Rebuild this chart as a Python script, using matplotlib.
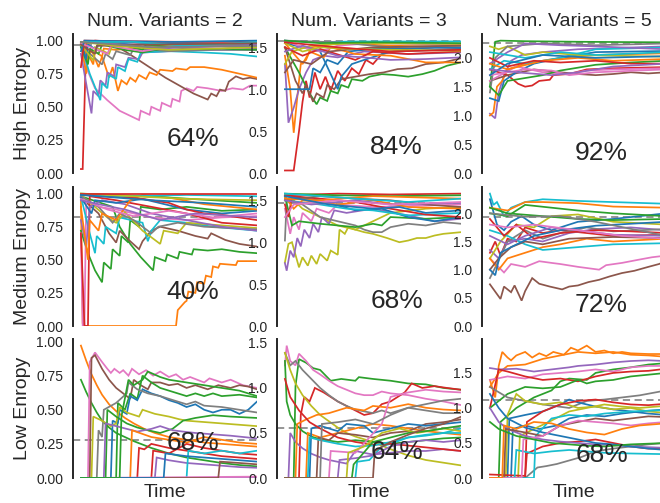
import matplotlib
matplotlib.use("Agg")
import matplotlib.pyplot as plt
from matplotlib.ticker import FormatStrFormatter

plt.rcParams['font.family'] = ['Liberation Sans', 'DejaVu Sans']

col_titles = ["Num. Variants = 2", "Num. Variants = 3", "Num. Variants = 5"]
row_labels = ["High Entropy", "Medium Enropy", "Low Enropy"]
percents = [["64%", "84%", "92%"], ["40%", "68%", "72%"], ["68%", "64%", "68%"]]
ref_levels = [[0.97, 1.57, 2.25], [0.82, 1.47, 1.94], [0.28, 0.56, 1.12]]
yticks = [[0, 0.25, 0.5, 0.75, 1.0], [0, 0.5, 1.0, 1.5], [0, 0.5, 1.0, 1.5, 2.0]]

# ---- High entropy, 2 variants ----
HL_colors = ['C3','C6','C5','C1','C1','C4','C9','C7','C2','C0','C8','C3','C2','C6','C4','C0','C9','C5','C8','C7']
HL_lines = [
 [0,0.03, 1,0.03, 3,0.98, 8,1.0, 20,0.99, 40,0.98, 70,0.975, 100,0.975],
 [0,0.97, 3,0.8, 8,0.64, 15,0.55, 22,0.47, 33,0.40, 34,0.47, 39,0.44, 40,0.50, 45,0.47, 46,0.53, 51,0.50, 52,0.56, 56,0.54, 57,0.62, 60,0.64, 64,0.62, 66,0.65, 72,0.64, 80,0.62, 86,0.64, 92,0.63, 96,0.66, 100,0.66],
 [0,0.99, 10,0.98, 18,0.97, 25,0.92, 32,0.86, 40,0.79, 48,0.72, 56,0.66, 64,0.6, 72,0.555, 74,0.6, 77,0.58, 79,0.63, 82,0.62, 84,0.69, 88,0.73, 92,0.71, 96,0.72, 100,0.71],
 [0,0.98, 4,0.85, 6,0.93, 10,0.8, 12,0.88, 16,0.72, 18,0.8, 21,0.62, 23,0.7, 26,0.67, 28,0.72, 31,0.69, 33,0.74, 37,0.71, 39,0.76, 43,0.74, 45,0.78, 52,0.77, 54,0.79, 60,0.78, 62,0.8, 70,0.8, 80,0.78, 90,0.75, 100,0.72],
 [0,0.97, 3,0.75, 4,0.9, 7,0.82, 8,0.92, 12,0.88, 13,0.94, 20,0.93, 40,0.96, 100,0.97],
 [0,0.9, 6,0.45, 7,0.62, 10,0.58, 11,0.7, 14,0.66, 15,0.76, 19,0.73, 20,0.82, 25,0.8, 27,0.87, 33,0.86, 35,0.91, 50,0.92, 70,0.93, 100,0.93],
 [0,0.97, 5,0.75, 11,0.55, 12,0.68, 15,0.64, 16,0.74, 20,0.71, 21,0.8, 25,0.77, 27,0.86, 32,0.84, 34,0.91, 50,0.92, 70,0.91, 85,0.9, 100,0.88],
 [0,0.96, 12,0.82, 14,0.9, 18,0.86, 20,0.92, 28,0.89, 30,0.94, 50,0.92, 75,0.93, 100,0.94],
 [0,0.95, 4,0.82, 5,0.94, 10,0.9, 12,0.97, 25,0.93, 35,0.91, 50,0.95, 75,0.96, 100,0.95],
 [0,0.99, 3,0.86, 4,0.97, 9,0.93, 10,0.99, 30,0.97, 60,0.98, 100,0.97],
 [0,0.97, 7,0.85, 8,0.95, 16,0.9, 18,0.97, 40,0.95, 70,0.97, 100,0.96],
 [0,0.8, 2,1.0, 30,0.995, 60,0.99, 100,0.99],
 [0,0.99, 20,0.98, 35,0.93, 37,0.97, 60,0.94, 100,0.93],
 [0,0.98, 15,0.9, 17,0.96, 35,0.92, 50,0.95, 80,0.94, 100,0.95],
 [0,0.99, 25,0.97, 45,0.94, 60,0.95, 100,0.97],
 [0,0.92, 2,1.0, 50,0.99, 100,1.0],
 [0,0.99, 30,0.99, 60,0.96, 100,0.99],
 [0,0.97, 8,0.9, 9,0.96, 40,0.97, 100,0.98],
 [0,0.99, 20,0.96, 50,0.93, 100,0.95],
 [0,0.99, 40,0.95, 100,0.96],
]

# ---- High entropy, 3 variants ----
HM_colors = ['C3','C1','C4','C2','C5','C0','C0','C1','C6','C9','C7','C8','C3','C4','C2','C5','C8','C3']
HM_lines = [
 [0,0.03, 5,0.03, 8,0.5, 10,0.85, 12,1.1, 14,0.9, 17,1.2, 20,1.0, 23,1.15, 26,0.98, 30,1.22, 34,1.1, 38,1.25, 42,1.18, 46,1.35, 50,1.3, 55,1.42, 62,1.45, 70,1.48, 85,1.5, 100,1.49],
 [0,1.4, 3,1.0, 5,0.48, 7,0.9, 9,1.3, 12,1.35, 15,1.5, 30,1.55, 60,1.52, 100,1.5],
 [0,1.3, 2,0.6, 5,0.78, 8,1.0, 12,1.2, 16,1.35, 22,1.4, 30,1.38, 45,1.45, 70,1.42, 100,1.44],
 [0,1.5, 8,1.2, 14,0.95, 18,0.82, 20,0.9, 24,0.86, 26,0.98, 30,0.95, 32,1.05, 36,1.02, 38,1.12, 44,1.1, 48,1.15, 55,1.18, 62,1.17, 70,1.15, 78,1.18, 85,1.22, 92,1.28, 100,1.32],
 [0,1.5, 6,1.1, 10,0.95, 12,1.05, 16,0.85, 18,0.95, 22,0.9, 24,1.05, 28,1.0, 32,1.12, 40,1.15, 48,1.18, 56,1.2, 64,1.24, 72,1.25, 80,1.3, 90,1.32, 100,1.37],
 [0,1.0, 2,1.0, 14,1.0, 16,1.25, 20,1.2, 24,1.35, 30,1.3, 36,1.45, 50,1.48, 100,1.5],
 [0,1.55, 20,1.45, 30,1.0, 32,1.15, 38,1.3, 45,1.35, 60,1.45, 100,1.48],
 [0,1.55, 10,1.3, 14,1.45, 22,1.38, 26,1.5, 40,1.42, 60,1.4, 80,1.32, 100,1.32],
 [0,1.58, 10,1.5, 20,1.45, 30,1.52, 50,1.55, 100,1.53],
 [0,1.58, 15,1.56, 40,1.57, 100,1.57],
 [0,1.58, 30,1.56, 60,1.5, 100,1.52],
 [0,1.3, 4,1.45, 15,1.52, 40,1.55, 100,1.54],
 [0,1.5, 10,1.4, 20,1.48, 40,1.35, 50,1.45, 70,1.42, 100,1.45],
 [0,1.45, 10,1.52, 30,1.4, 45,1.38, 60,1.35, 80,1.36, 100,1.38],
 [0,1.58, 20,1.55, 50,1.56, 100,1.55],
 [0,1.2, 5,1.35, 15,1.3, 25,1.45, 50,1.5, 100,1.52],
 [0,1.55, 10,1.45, 20,1.5, 40,1.48, 60,1.47, 100,1.46],
 [0,1.56, 30,1.5, 60,1.45, 100,1.47],
]

# ---- High entropy, 5 variants ----
HR_colors = ['C2','C4','C1','C3','C5','C0','C9','C6','C8','C7','C2','C4','C1','C3','C6','C9','C0','C4']
HR_lines = [
 [0,1.5, 3,2.28, 6,2.3, 20,2.29, 50,2.28, 100,2.27],
 [0,1.03, 3,0.95, 5,1.4, 8,1.7, 12,1.95, 18,2.05, 30,2.1, 50,2.15, 100,2.2],
 [0,1.0, 2,1.05, 4,1.5, 7,1.6, 10,1.8, 20,1.9, 40,2.0, 60,2.05, 100,2.08],
 [0,1.8, 10,1.7, 16,1.55, 20,1.5, 24,1.52, 28,1.6, 34,1.62, 36,1.7, 45,1.72, 55,1.8, 70,1.82, 85,1.83, 100,1.84],
 [0,1.6, 10,1.7, 25,1.8, 40,1.75, 50,1.72, 60,1.7, 70,1.72, 80,1.75, 90,1.73, 100,1.75],
 [0,1.3, 5,1.25, 8,1.6, 15,1.75, 25,1.9, 40,2.0, 60,2.1, 100,2.12],
 [0,1.8, 8,1.95, 20,1.9, 40,2.0, 60,2.15, 100,2.18],
 [0,1.6, 15,1.85, 30,1.75, 45,1.72, 55,1.78, 70,1.8, 100,1.82],
 [0,2.2, 5,2.15, 10,2.2, 20,2.05, 30,2.1, 50,2.05, 100,2.02],
 [0,1.4, 3,2.0, 10,2.2, 30,2.25, 60,2.22, 100,2.25],
 [0,1.5, 5,1.35, 10,1.6, 20,1.65, 30,1.7, 40,1.78, 60,1.88, 80,1.92, 100,1.95],
 [0,1.9, 10,2.1, 20,2.25, 40,2.22, 60,2.2, 100,2.15],
 [0,1.9, 10,1.8, 30,1.95, 50,2.0, 70,1.95, 100,1.98],
 [0,2.0, 10,1.85, 25,1.95, 40,1.92, 60,1.95, 80,1.9, 100,1.9],
 [0,1.7, 20,1.8, 35,1.78, 45,1.7, 60,1.75, 100,1.8],
 [0,2.1, 20,2.0, 40,2.1, 60,2.05, 100,2.1],
 [0,1.7, 10,1.9, 30,2.05, 60,2.0, 100,2.03],
 [0,1.8, 15,1.75, 35,1.7, 50,1.75, 70,1.85, 100,1.9],
]

# ---- Medium entropy, 2 variants ----
ML_colors = ['C1','C2','C2','C5','C6','C3','C9','C8','C7','C4','C0','C1','C3','C2','C9','C6','C4','C8','C3','C0']
ML_lines = [
 [0,0.95, 1,0.02, 2,0.0, 54,0.0, 55,0.12, 59,0.18, 60,0.19, 61,0.26, 65,0.25, 66,0.33, 70,0.32, 71,0.38, 74,0.37, 75,0.45, 78,0.44, 79,0.47, 88,0.46, 89,0.49, 100,0.49],
 [0,0.72, 4,0.55, 8,0.42, 12,0.33, 13,0.48, 17,0.43, 18,0.58, 22,0.53, 23,0.68, 27,0.63, 28,0.8, 33,0.75, 34,0.9, 45,0.88, 60,0.9, 80,0.87, 100,0.88],
 [0,0.98, 18,0.9, 22,0.75, 28,0.62, 34,0.52, 41,0.42, 42,0.52, 48,0.49, 49,0.54, 55,0.51, 56,0.56, 63,0.54, 64,0.58, 72,0.57, 80,0.58, 90,0.56, 100,0.55],
 [0,0.97, 10,0.85, 16,0.7, 20,0.63, 22,0.72, 28,0.64, 33,0.58, 35,0.64, 40,0.72, 45,0.75, 55,0.72, 65,0.68, 72,0.66, 74,0.7, 82,0.65, 90,0.62, 100,0.6],
 [0,0.7, 1,0.0, 2,0.0, 3,0.95, 10,0.9, 20,0.88, 40,0.82, 60,0.8, 80,0.82, 100,0.83],
 [0,0.7, 2,0.0, 4,0.0, 5,0.98, 20,0.95, 40,0.9, 60,0.85, 80,0.78, 100,0.76],
 [0,0.98, 5,0.7, 8,0.55, 9,0.68, 13,0.62, 14,0.75, 20,0.7, 22,0.82, 35,0.78, 38,0.64, 40,0.72, 45,0.8, 60,0.78, 75,0.75, 100,0.72],
 [0,0.99, 15,0.82, 20,0.78, 25,0.86, 35,0.72, 45,0.62, 47,0.72, 55,0.7, 60,0.78, 80,0.76, 100,0.74],
 [0,0.98, 10,0.9, 18,0.78, 22,0.85, 30,0.8, 40,0.7, 44,0.75, 55,0.78, 70,0.75, 100,0.73],
 [0,0.8, 3,0.6, 5,0.9, 12,0.95, 25,0.92, 40,0.85, 60,0.8, 80,0.75, 100,0.72],
 [0,0.97, 6,0.85, 8,0.95, 20,0.93, 35,0.96, 60,0.88, 80,0.85, 100,0.87],
 [0,0.9, 4,0.5, 5,0.8, 10,0.72, 12,0.85, 20,0.8, 28,0.95, 35,0.99, 50,0.97, 70,0.92, 100,0.88],
 [0,0.99, 30,0.97, 50,0.93, 60,0.88, 70,0.85, 80,0.84, 100,0.8],
 [0,1.0, 20,0.99, 50,0.97, 75,0.95, 100,0.93],
 [0,0.99, 30,0.98, 60,0.99, 100,0.98],
 [0,0.96, 15,0.88, 30,0.83, 50,0.87, 75,0.82, 100,0.85],
 [0,0.95, 10,0.92, 25,0.88, 45,0.8, 65,0.85, 100,0.82],
 [0,1.0, 30,0.98, 60,0.96, 100,0.95],
 [0,1.0, 100,1.0],
 [0,0.99, 40,0.95, 70,0.93, 100,0.9],
]

# ---- Medium entropy, 3 variants ----
MM_colors = ['C8','C8','C4','C6','C7','C2','C0','C9','C3','C1','C5','C3','C2','C1','C4','C6','C0','C9']
MM_lines = [
 [0,0.76, 2,0.98, 4,1.0, 6,0.85, 8,0.7, 10,0.82, 13,0.72, 15,0.84, 18,0.74, 20,0.86, 24,0.78, 26,0.9, 30,0.85, 31,1.15, 34,1.1, 36,1.18, 40,1.15, 45,1.12, 50,1.1, 58,1.05, 65,1.0, 70,1.02, 75,1.05, 80,1.05, 85,1.08, 90,1.1, 100,1.12],
 [0,1.5, 2,1.48, 5,1.5, 10,1.4, 20,1.3, 30,1.2, 40,1.15, 50,1.25, 60,1.35, 80,1.4, 100,1.42],
 [0,0.75, 1,0.66, 3,0.9, 5,0.82, 7,1.05, 9,0.95, 11,1.15, 14,1.05, 16,1.22, 19,1.12, 21,1.3, 25,1.22, 28,1.38, 35,1.35, 50,1.4, 70,1.32, 85,1.25, 100,1.28],
 [0,1.4, 3,1.1, 5,1.3, 8,1.15, 10,1.35, 15,1.25, 18,1.4, 25,1.35, 30,1.45, 50,1.42, 100,1.45],
 [0,1.02, 1,1.5, 10,1.45, 20,1.3, 30,1.25, 40,1.2, 45,1.15, 50,1.12, 55,1.12, 60,1.18, 70,1.22, 80,1.2, 90,1.24, 100,1.22],
 [0,1.55, 4,1.2, 8,1.25, 20,1.22, 30,1.2, 40,1.18, 50,1.22, 55,1.2, 60,1.3, 80,1.28, 100,1.3],
 [0,1.55, 20,1.5, 40,1.38, 55,1.4, 70,1.3, 85,1.25, 100,1.3],
 [0,1.5, 20,1.45, 35,1.4, 50,1.38, 70,1.32, 100,1.35],
 [0,1.45, 2,1.3, 4,1.55, 20,1.52, 40,1.48, 60,1.4, 80,1.33, 100,1.3],
 [0,1.55, 5,1.4, 10,1.5, 30,1.45, 50,1.5, 70,1.42, 100,1.4],
 [0,1.5, 20,1.55, 40,1.52, 60,1.5, 80,1.45, 100,1.42],
 [0,1.56, 30,1.58, 60,1.57, 100,1.58],
 [0,1.58, 30,1.56, 60,1.55, 100,1.56],
 [0,1.52, 20,1.5, 50,1.55, 100,1.52],
 [0,1.5, 15,1.45, 40,1.5, 60,1.45, 100,1.47],
 [0,1.3, 5,1.45, 30,1.5, 60,1.45, 100,1.48],
 [0,1.55, 25,1.45, 50,1.4, 65,1.42, 80,1.35, 100,1.38],
 [0,1.58, 40,1.52, 70,1.48, 100,1.52],
]

# ---- Medium entropy, 5 variants ----
MR_colors = ['C5','C6','C9','C0','C3','C2','C1','C4','C7','C8','C1','C9','C3','C2','C4','C5','C0','C6','C7']
MR_lines = [
 [0,0.74, 6,0.48, 8,0.7, 12,0.6, 14,0.72, 18,0.45, 20,0.62, 24,0.85, 28,0.75, 34,0.7, 41,0.65, 45,0.7, 50,0.72, 56,0.78, 62,0.82, 68,0.88, 75,0.94, 82,0.98, 90,1.05, 96,1.1, 100,1.15],
 [0,1.2, 8,0.95, 12,1.1, 20,1.05, 28,1.15, 35,1.12, 40,1.1, 50,1.05, 62,1.0, 66,1.08, 75,1.12, 85,1.18, 92,1.22, 100,1.25],
 [0,2.35, 2,2.15, 4,2.2, 8,1.95, 12,2.1, 20,2.2, 30,2.25, 50,2.22, 70,2.2, 100,2.17],
 [0,2.25, 4,1.8, 8,1.7, 12,1.85, 18,1.95, 25,1.8, 35,1.7, 50,1.85, 70,1.9, 100,2.0],
 [0,1.3, 3,1.5, 6,1.25, 10,1.55, 15,1.5, 20,1.75, 30,1.65, 40,1.7, 55,1.65, 70,1.6, 100,1.62],
 [0,2.0, 10,1.95, 20,2.15, 35,2.1, 50,2.05, 70,2.0, 100,1.95],
 [0,2.1, 10,2.05, 20,2.2, 30,2.2, 50,2.18, 70,2.12, 100,2.1],
 [0,1.35, 5,1.2, 10,1.5, 20,1.55, 30,1.5, 45,1.65, 60,1.72, 80,1.75, 100,1.7],
 [0,0.85, 4,1.1, 10,1.5, 20,1.7, 30,1.55, 40,1.65, 55,1.75, 70,1.68, 100,1.72],
 [0,1.2, 6,1.5, 15,1.8, 25,1.75, 35,1.95, 50,1.98, 70,1.85, 100,1.8],
 [0,1.2, 5,1.0, 10,1.2, 20,1.3, 30,1.4, 40,1.45, 55,1.55, 70,1.5, 100,1.55],
 [0,1.7, 10,1.6, 20,1.45, 30,1.35, 50,1.4, 70,1.45, 100,1.47],
 [0,1.9, 8,1.6, 15,1.8, 25,1.55, 40,1.65, 60,1.7, 80,1.68, 100,1.65],
 [0,2.1, 10,2.0, 30,1.95, 50,1.9, 70,1.88, 100,1.9],
 [0,1.6, 10,1.45, 20,1.6, 35,1.75, 50,1.7, 70,1.62, 100,1.6],
 [0,1.0, 5,1.2, 12,1.4, 20,1.5, 30,1.45, 45,1.55, 70,1.58, 100,1.56],
 [0,1.0, 3,0.9, 6,1.3, 12,1.4, 25,1.6, 40,1.7, 60,1.78, 100,1.85],
 [0,1.8, 10,1.75, 25,1.8, 50,1.7, 75,1.6, 100,1.55],
 [0,2.0, 20,1.94, 40,1.95, 60,1.85, 100,1.6],
]

# ---- Low entropy, 2 variants ----
LL_colors = ['C1','C2','C6','C5','C2','C0','C7','C8','C2','C4','C3','C3','C4','C9','C1','C4','C6','C5','C0','C2']
LL_lines = [
 [0,0.97, 3,0.86, 6,0.76, 9,0.68, 12,0.61, 16,0.54, 20,0.49, 25,0.44, 30,0.40, 36,0.36, 42,0.33, 50,0.3, 60,0.28, 70,0.26, 80,0.25, 90,0.24, 100,0.23],
 [0,0.72, 3,0.63, 6,0.55, 9,0.48, 12,0.42, 16,0.37, 20,0.33, 25,0.3, 30,0.27, 40,0.22, 50,0.18, 60,0.15, 70,0.13, 80,0.11, 90,0.095, 100,0.085],
 [0,0.0, 4,0.0, 5,0.85, 8,0.92, 12,0.85, 15,0.8, 17,0.77, 19,0.8, 22,0.77, 24,0.79, 27,0.75, 29,0.8, 33,0.76, 37,0.79, 41,0.75, 45,0.78, 50,0.74, 54,0.76, 58,0.72, 62,0.74, 70,0.7, 73,0.73, 80,0.7, 85,0.72, 92,0.68, 100,0.66],
 [0,0.0, 5,0.0, 6,0.88, 8,0.9, 12,0.8, 16,0.72, 20,0.66, 24,0.62, 28,0.58, 30,0.72, 34,0.68, 38,0.65, 40,0.7, 45,0.7, 50,0.68, 55,0.69, 60,0.66, 65,0.68, 72,0.65, 78,0.68, 85,0.66, 90,0.68, 95,0.67, 100,0.65],
 [0,0.0, 20,0.0, 21,0.55, 25,0.5, 28,0.62, 32,0.58, 35,0.75, 40,0.7, 45,0.66, 50,0.64, 55,0.62, 60,0.6, 65,0.62, 70,0.6, 75,0.62, 80,0.6, 90,0.61, 100,0.59],
 [0,0.0, 17,0.0, 18,0.42, 21,0.4, 22,0.5, 26,0.47, 28,0.6, 32,0.57, 35,0.65, 40,0.62, 45,0.6, 50,0.57, 55,0.55, 60,0.52, 65,0.54, 70,0.5, 75,0.48, 80,0.5, 85,0.5, 90,0.47, 95,0.5, 100,0.56],
 [0,0.0, 9,0.0, 10,0.35, 12,0.3, 13,0.5, 20,0.55, 26,0.62, 27,0.7, 32,0.65, 38,0.62, 45,0.6, 50,0.58, 55,0.56, 60,0.54, 65,0.56, 70,0.53, 80,0.52, 90,0.5, 100,0.48],
 [0,0.0, 6,0.0, 7,0.45, 12,0.42, 17,0.38, 20,0.4, 22,0.52, 26,0.48, 33,0.45, 35,0.5, 42,0.47, 50,0.45, 56,0.43, 60,0.42, 70,0.41, 80,0.4, 90,0.39, 100,0.38],
 [0,0.0, 14,0.0, 15,0.5, 20,0.45, 26,0.4, 32,0.37, 38,0.35, 45,0.33, 52,0.36, 58,0.42, 65,0.44, 75,0.46, 85,0.45, 100,0.44],
 [0,0.0, 13,0.0, 14,0.4, 20,0.38, 26,0.36, 32,0.34, 40,0.36, 45,0.38, 52,0.35, 58,0.34, 65,0.33, 75,0.32, 85,0.31, 100,0.29],
 [0,0.0, 32,0.0, 33,0.22, 36,0.21, 40,0.25, 50,0.22, 60,0.2, 70,0.18, 80,0.16, 90,0.15, 100,0.14],
 [0,0.0, 40,0.0, 41,0.2, 50,0.18, 60,0.25, 70,0.22, 80,0.2, 90,0.18, 100,0.17],
 [0,0.0, 42,0.0, 43,0.15, 50,0.13, 60,0.11, 70,0.1, 80,0.09, 90,0.08, 100,0.075],
 [0,0.0, 60,0.0, 61,0.2, 70,0.18, 80,0.2, 90,0.18, 100,0.2],
 [0,0.0, 28,0.0, 29,0.35, 40,0.3, 50,0.28, 60,0.26, 70,0.3, 80,0.28, 90,0.26, 100,0.25],
 [0,0.0, 100,0.0],
 [0,0.0, 100,0.01],
 [0,0.0, 78,0.0, 79,0.12, 90,0.11, 100,0.1],
 [0,0.0, 47,0.0, 48,0.18, 60,0.16, 70,0.15, 80,0.14, 100,0.12],
 [0,0.0, 22,0.0, 23,0.45, 27,0.72, 30,0.68, 35,0.72, 38,0.78, 45,0.74, 50,0.72, 60,0.7, 70,0.68, 80,0.66, 90,0.64, 100,0.6],
]

# ---- Low entropy, 3 variants ----
LM_colors = ['C2','C6','C3','C7','C8','C2','C4','C1','C1','C5','C9','C0','C3','C9','C4','C6','C7','C8','C2','C5']
LM_lines = [
 [0,0.0, 5,0.0, 6,1.02, 8,1.32, 12,1.28, 16,1.22, 20,1.2, 26,1.08, 32,1.1, 40,1.08, 42,1.12, 50,1.1, 60,1.08, 70,1.05, 80,1.04, 90,1.0, 100,0.98],
 [0,1.25, 1,1.47, 3,1.3, 6,1.25, 8,1.38, 12,1.3, 16,1.2, 20,1.15, 25,1.08, 30,1.02, 35,0.98, 40,0.94, 45,0.92, 50,0.92, 55,0.96, 60,0.94, 70,0.92, 80,0.88, 90,0.85, 100,0.81],
 [0,0.0, 8,0.0, 9,0.7, 11,0.9, 14,0.85, 17,1.0, 22,0.95, 30,0.85, 40,0.75, 45,0.7, 50,0.72, 55,0.82, 60,0.85, 68,0.95, 72,1.05, 78,1.0, 85,1.02, 92,1.0, 100,0.98],
 [0,1.39, 3,1.25, 6,1.3, 10,1.2, 15,1.1, 20,1.0, 25,0.92, 30,0.85, 35,0.8, 40,0.76, 50,0.72, 55,0.75, 60,0.72, 70,0.78, 80,0.75, 90,0.72, 100,0.72],
 [0,1.39, 3,1.2, 6,1.05, 10,0.92, 15,0.8, 20,0.7, 25,0.63, 30,0.56, 35,0.5, 40,0.46, 50,0.4, 60,0.32, 70,0.25, 80,0.2, 90,0.17, 100,0.14],
 [0,1.3, 1,0.85, 3,0.7, 6,0.6, 10,0.52, 15,0.46, 20,0.43, 30,0.4, 40,0.42, 50,0.4, 60,0.38, 70,0.4, 80,0.42, 90,0.44, 100,0.45],
 [0,0.0, 2,0.0, 3,0.5, 6,0.4, 10,0.33, 15,0.27, 20,0.23, 25,0.2, 30,0.18, 35,0.16, 40,0.3, 45,0.28, 50,0.26, 60,0.28, 70,0.3, 80,0.3, 90,0.32, 100,0.3],
 [0,0.0, 6,0.0, 7,0.6, 12,0.65, 18,0.7, 25,0.72, 35,0.78, 45,0.75, 50,0.8, 60,0.78, 70,0.82, 80,0.78, 90,0.76, 100,0.75],
 [0,0.0, 12,0.0, 13,0.5, 20,0.45, 30,0.5, 40,0.55, 50,0.6, 60,0.58, 70,0.55, 80,0.52, 90,0.5, 100,0.48],
 [0,0.0, 18,0.0, 19,0.45, 25,0.42, 30,0.5, 40,0.48, 50,0.45, 60,0.5, 70,0.52, 80,0.6, 90,0.62, 100,0.65],
 [0,0.0, 40,0.0, 41,0.18, 48,0.2, 55,0.35, 60,0.38, 70,0.45, 80,0.48, 90,0.5, 100,0.55],
 [0,0.0, 14,0.0, 15,0.55, 20,0.58, 25,0.55, 30,0.52, 35,0.6, 45,0.58, 50,0.5, 60,0.55, 70,0.6, 80,0.58, 90,0.6, 100,0.62],
 [0,1.1, 3,0.9, 8,0.75, 14,0.62, 20,0.55, 30,0.45, 40,0.4, 50,0.37, 60,0.38, 70,0.36, 80,0.34, 90,0.32, 100,0.3],
 [0,0.0, 13,0.0, 14,0.45, 20,0.42, 30,0.38, 40,0.35, 50,0.36, 60,0.4, 70,0.45, 80,0.47, 90,0.5, 100,0.5],
 [0,0.0, 30,0.0, 31,0.2, 40,0.22, 50,0.25, 60,0.35, 70,0.4, 80,0.42, 90,0.4, 100,0.42],
 [0,0.0, 25,0.0, 26,0.3, 40,0.28, 55,0.6, 60,0.9, 70,0.95, 80,0.98, 90,0.96, 100,0.95],
 [0,0.0, 20,0.0, 21,0.6, 30,0.62, 40,0.65, 50,0.6, 60,0.7, 70,0.78, 80,0.82, 90,0.86, 100,0.88],
 [0,0.0, 35,0.0, 36,0.28, 45,0.35, 55,0.5, 65,0.55, 75,0.5, 90,0.55, 100,0.52],
 [0,0.0, 38,0.0, 39,0.15, 50,0.4, 60,0.45, 70,0.5, 80,0.52, 90,0.55, 100,0.58],
 [0,0.0, 50,0.0, 51,0.3, 60,0.4, 70,0.48, 80,0.55, 90,0.6, 100,0.68],
]

# ---- Low entropy, 5 variants ----
LR_colors = ['C1','C1','C4','C2','C6','C3','C2','C7','C7','C0','C0','C8','C8','C3','C3','C9','C9','C4','C0','C5','C6','C1','C2']
LR_lines = [
 [0,1.4, 3,1.15, 5,1.6, 7,1.8, 10,1.72, 12,1.68, 15,1.75, 20,1.8, 24,1.72, 28,1.78, 32,1.74, 36,1.8, 42,1.76, 46,1.86, 50,1.82, 55,1.89, 60,1.8, 65,1.82, 70,1.78, 75,1.8, 80,1.78, 90,1.77, 100,1.77],
 [0,1.3, 5,1.5, 10,1.6, 20,1.62, 30,1.7, 40,1.75, 50,1.8, 60,1.78, 70,1.8, 80,1.76, 90,1.75, 100,1.73],
 [0,1.57, 5,1.55, 15,1.56, 25,1.52, 35,1.55, 45,1.58, 50,1.6, 60,1.62, 70,1.65, 80,1.67, 90,1.68, 100,1.67],
 [0,0.0, 5,0.0, 6,0.8, 15,1.0, 25,1.15, 30,1.2, 35,1.25, 40,1.38, 45,1.42, 55,1.4, 60,1.5, 70,1.55, 80,1.58, 90,1.62, 100,1.64],
 [0,1.4, 10,1.45, 20,1.42, 30,1.48, 40,1.5, 50,1.52, 60,1.55, 70,1.52, 80,1.58, 90,1.6, 100,1.6],
 [0,1.0, 5,1.55, 10,1.52, 20,1.45, 30,1.4, 40,1.42, 50,1.38, 60,1.45, 70,1.5, 80,1.52, 90,1.53, 100,1.56],
 [0,1.0, 10,1.2, 20,1.3, 30,1.28, 40,1.3, 50,1.4, 55,1.35, 60,1.38, 70,1.4, 80,1.45, 100,1.5],
 [0,0.0, 20,0.0, 27,0.15, 32,0.17, 38,0.2, 45,0.25, 52,0.3, 60,0.38, 70,0.42, 80,0.45, 90,0.48, 100,0.5],
 [0,1.3, 10,1.15, 20,1.1, 30,1.05, 45,1.0, 55,1.1, 65,1.12, 75,1.15, 85,1.18, 100,1.25],
 [0,0.0, 10,0.0, 11,0.85, 20,0.9, 30,0.95, 40,1.05, 45,1.12, 50,1.08, 60,1.02, 70,0.98, 80,0.95, 90,0.92, 100,0.9],
 [0,0.0, 12,0.0, 13,0.7, 20,0.75, 28,0.7, 38,0.75, 45,0.85, 55,0.9, 65,0.88, 75,0.92, 85,0.95, 100,0.98],
 [0,0.0, 9,0.0, 10,0.9, 15,1.2, 20,1.1, 30,1.05, 40,1.08, 50,1.0, 60,1.02, 70,0.98, 80,1.0, 90,0.95, 100,0.93],
 [0,0.0, 16,0.0, 17,0.6, 25,0.7, 35,0.82, 45,0.95, 55,1.0, 65,1.05, 75,1.02, 85,1.0, 100,1.03],
 [0,0.0, 20,0.0, 21,0.8, 30,0.95, 40,1.05, 50,1.1, 60,1.12, 70,1.08, 80,1.05, 90,1.04, 100,1.06],
 [0,0.05, 20,0.03, 21,0.35, 30,0.45, 40,0.5, 50,0.52, 60,0.55, 70,0.5, 80,0.45, 90,0.42, 100,0.42],
 [0,0.0, 14,0.0, 15,0.4, 25,0.35, 35,0.38, 45,0.4, 55,0.38, 65,0.36, 80,0.35, 100,0.34],
 [0,0.0, 25,0.0, 26,0.6, 35,0.85, 45,0.9, 55,0.88, 65,0.92, 80,0.95, 100,0.97],
 [0,1.0, 5,0.8, 10,0.7, 20,0.6, 30,0.55, 40,0.52, 50,0.5, 60,0.48, 70,0.47, 80,0.45, 90,0.44, 100,0.43],
 [0,1.2, 5,1.0, 10,0.85, 20,0.72, 30,0.65, 40,0.6, 50,0.55, 60,0.5, 70,0.48, 80,0.45, 90,0.42, 100,0.4],
 [0,0.0, 8,0.0, 9,0.7, 20,0.65, 30,0.6, 40,0.75, 50,0.8, 60,0.85, 70,0.82, 80,0.85, 90,0.88, 100,0.87],
 [0,0.0, 18,0.0, 19,0.55, 30,0.6, 40,0.75, 50,0.82, 60,0.8, 70,0.78, 80,0.75, 90,0.78, 100,0.8],
 [0,0.0, 7,0.0, 8,0.75, 15,0.7, 25,0.8, 35,0.78, 45,0.7, 55,0.65, 65,0.62, 75,0.7, 85,0.75, 100,0.78],
 [0,0.8, 5,0.7, 15,0.6, 25,0.55, 35,0.5, 45,0.48, 55,0.46, 65,0.45, 80,0.48, 100,0.5],
]

panels = [
    [(HL_lines, HL_colors), (HM_lines, HM_colors), (HR_lines, HR_colors)],
    [(ML_lines, ML_colors), (MM_lines, MM_colors), (MR_lines, MR_colors)],
    [(LL_lines, LL_colors), (LM_lines, LM_colors), (LR_lines, LR_colors)],
]

# layout (pixels)
W, H = 660, 503
col_left = [73, 277, 482]
row_top = [34, 187, 339]
ax_w, ax_h = 184, 139
pct_y = [[0.245, 0.187, 0.147], [0.247, 0.18, 0.151], [0.255, 0.19, 0.165]]

TXT = '#262626'
fig = plt.figure(figsize=(W / 100, H / 100), dpi=100)

for r in range(3):
    for c in range(3):
        lines, colors = panels[r][c]
        ax = fig.add_axes([col_left[c] / W, 1 - (row_top[r] + ax_h) / H, ax_w / W, ax_h / H])
        ymax = ref_levels[r][c]
        for pts, col in zip(lines, colors):
            xs = pts[0::2]
            ys = pts[1::2]
            ymax = max(ymax, max(ys))
            ax.plot(xs, ys, color=col, lw=1.25, solid_joinstyle='miter', zorder=2)
        ax.axhline(ref_levels[r][c], color='#8c8c8c', ls='--', lw=1.3, dashes=(4, 2.5), zorder=1.5)
        top = ymax * 1.05
        ax.set_xlim(-4.5, 100)
        ax.set_ylim(0, top)
        ax.set_xticks([])
        ax.set_yticks([t for t in yticks[c] if t <= top - 0.01])
        ax.yaxis.set_major_formatter(FormatStrFormatter('%.2f' if c == 0 else '%.1f'))
        ax.tick_params(axis='y', length=0, pad=7, labelsize=10, labelcolor=TXT)
        for s in ['top', 'right', 'bottom']:
            ax.spines[s].set_visible(False)
        ax.spines['left'].set_color(TXT)
        ax.spines['left'].set_linewidth(1.4)
        ax.patch.set_alpha(0)
        ax.text(0.65, pct_y[r][c], percents[r][c], transform=ax.transAxes,
                ha='center', va='center', fontsize=19, color=TXT, zorder=5)
        if r == 0:
            ax.set_title(col_titles[c], fontsize=14, color=TXT, pad=6)
        if c == 0:
            ax.set_ylabel(row_labels[r], fontsize=14, color=TXT, labelpad=4)
        if r == 2:
            ax.set_xlabel("Time", fontsize=14, color=TXT, labelpad=4)

fig.savefig("out.png", dpi=100)
